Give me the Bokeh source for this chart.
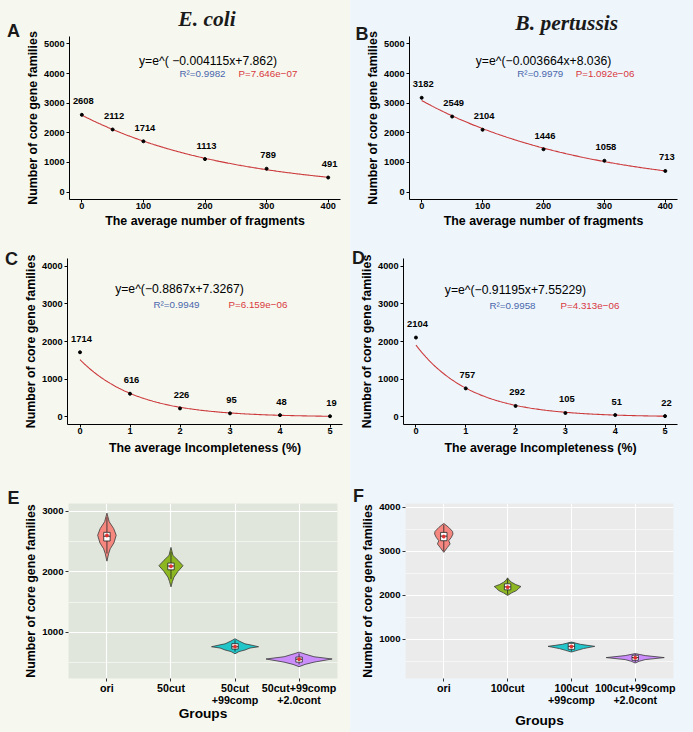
import numpy as np
from bokeh.plotting import figure
from bokeh.models import Label, FixedTicker, SingleIntervalTicker, Range1d
from bokeh.layouts import column, row
from bokeh.embed import file_html
from bokeh.resources import INLINE
from bokeh.core.properties import value

S = 1.0
SANS = "Liberation Sans"
SERIF = "Liberation Serif"
LEFT_BG = "#f6f8f0"
RIGHT_BG = "#eef6fc"
E_PANEL = "#e1e6dc"
F_PANEL = "#ebebeb"
FIT_COLOR = "#cc3a3c"
R2_COLOR = "#4a66ab"
P_COLOR = "#d9383d"

# ---------------- data ----------------
frag_x = [0, 50, 100, 200, 300, 400]
ecoli_frag = [2608, 2112, 1714, 1113, 789, 491]
bper_frag = [3182, 2549, 2104, 1446, 1058, 713]
incomp_x = [0, 1, 2, 3, 4, 5]
ecoli_incomp = [1714, 616, 226, 95, 48, 19]
bper_incomp = [2104, 757, 292, 105, 51, 22]

frag_ticks = [0, 100, 200, 300, 400]
incomp_ticks = [0, 1, 2, 3, 4, 5]
frag_yticks = [0, 1000, 2000, 3000, 4000, 5000]
incomp_yticks = [0, 1000, 2000, 3000, 4000]

fit_slope = {"A": -0.004115, "B": -0.003664, "C": -0.8867, "D": -0.91195}
fit_icpt = {"A": 7.862, "B": 8.036, "C": 7.3267, "D": 7.55229}
formula = {"A": "y=e^( \u22120.004115x+7.862)", "B": "y=e^(\u22120.003664x+8.036)",
           "C": "y=e^(\u22120.8867x+7.3267)", "D": "y=e^(\u22120.91195x+7.55229)"}
r2_text = {"A": "R\u00b2=0.9982", "B": "R\u00b2=0.9979", "C": "R\u00b2=0.9949", "D": "R\u00b2=0.9958"}
p_text = {"A": "P=7.646e\u221207", "B": "P=1.092e\u221206", "C": "P=6.159e\u221206", "D": "P=4.313e\u221206"}

groups_E = ["ori", "50cut", "50cut\n+99comp", "50cut+99comp\n+2.0cont"]
groups_F = ["ori", "100cut", "100cut\n+99comp", "100cut+99comp\n+2.0cont"]
group_colors = ["#F8766D", "#7CAE00", "#00BFC4", "#C77CFF"]

# violin outlines: value levels and half-widths (in category widths)
E_vy = [[2968, 2825, 2714, 2603, 2476, 2381, 2302, 2175],
        [2402, 2270, 2190, 2100, 2005, 1910, 1841, 1751],
        [894, 857, 810, 794, 762, 741, 709, 683, 646],
        [673, 641, 597, 560, 508, 471, 433]]
E_vw = [[0, .036, .105, .145, .109, .052, .027, 0],
        [0, .031, .109, .188, .109, .047, .023, 0],
        [0, .063, .156, .234, .367, .234, .156, .063, 0],
        [0, .094, .234, .516, .234, .094, 0]]
F_vy = [[3629, 3538, 3447, 3388, 3311, 3236, 3162, 3085, 2971],
        [2391, 2340, 2291, 2240, 2194, 2150, 2104, 2050, 1990],
        [932, 880, 834, 783, 744, 705],
        [669, 624, 578, 533, 495, 456]]
F_vw = [[0, .078, .137, .144, .118, .078, .099, .058, 0],
        [0, .024, .063, .126, .209, .173, .141, .063, 0],
        [0, .141, .366, .188, .094, 0],
        [0, .157, .455, .157, .063, 0]]
# box plot statistics
E_q1 = [2508, 2032, 724, 508]
E_med = [2587, 2095, 762, 556]
E_q3 = [2651, 2143, 813, 592]
E_wlo = [2300, 1880, 680, 470]
E_whi = [2900, 2330, 870, 650]
E_mean = [2600, 2090, 765, 556]
F_q1 = [3236, 2119, 767, 517]
F_med = [3340, 2187, 835, 578]
F_q3 = [3425, 2255, 903, 631]
F_wlo = [3000, 2010, 720, 470]
F_whi = [3600, 2370, 920, 660]
F_mean = [3330, 2180, 830, 575]

# --------------- layout specs (reference pixel geometry) ---------------
SPEC = {
    "A": dict(box=(0, 0, 350, 234), frame=(69, 36, 340, 200), xr=(-20, 420), yr=(-250, 5250)),
    "B": dict(box=(350, 0, 693, 234), frame=(406, 33, 677, 199), xr=(-20, 420), yr=(-250, 5250)),
    "C": dict(box=(0, 234, 350, 462), frame=(67, 257, 342, 424), xr=(-0.25, 5.25), yr=(-200, 4200)),
    "D": dict(box=(350, 234, 693, 462), frame=(403, 258, 677, 425), xr=(-0.25, 5.25), yr=(-200, 4200)),
    "E": dict(box=(0, 462, 350, 732), frame=(68, 501, 337, 683), xr=(0.4, 4.6), yr=(238, 3127)),
    "F": dict(box=(350, 462, 693, 732), frame=(405, 503, 673, 678), xr=(0.4, 4.6), yr=(103, 4082)),
}


def to_data(key, xr, yr):
    sp = SPEC[key]
    fl, ft, fr, fb = sp["frame"]
    x0, x1 = sp["xr"]
    y0, y1 = sp["yr"]
    xd = x0 + (xr - fl) / (fr - fl) * (x1 - x0)
    yd = y1 - (yr - ft) / (fb - ft) * (y1 - y0)
    return xd, yd


def make_fig(key, bg, frame_bg=None):
    sp = SPEC[key]
    bx0, by0, bx1, by1 = sp["box"]
    fl, ft, fr, fb = sp["frame"]
    W = round((bx1 - bx0) * S)
    H = round((by1 - by0) * S)
    L = round((fl - bx0) * S)
    T = round((ft - by0) * S)
    R = W - L - round((fr - fl) * S)
    B = H - T - round((fb - ft) * S)
    p = figure(width=W, height=H, x_range=Range1d(*sp["xr"]), y_range=Range1d(*sp["yr"]),
               output_backend="svg", toolbar_location=None,
               min_border_left=L, min_border_right=R, min_border_top=T, min_border_bottom=B)
    p.border_fill_color = bg
    p.background_fill_color = frame_bg or bg
    p.outline_line_color = None
    return p


def add_text(p, key, xr, yr, text, size, color="black", style="normal", align="center",
             baseline="middle", font=SANS, place="center"):
    xd, yd = to_data(key, xr, yr)
    lab = Label(x=xd, y=yd, text=text, text_font=font, text_font_size=size,
                text_font_style=style, text_color=color, text_align=align,
                text_baseline=baseline)
    p.add_layout(lab, place)


def style_axis_common(ax, tick_size, label_size):
    ax.major_label_text_font = SANS
    ax.major_label_text_font_style = "bold"
    ax.major_label_text_font_size = tick_size
    ax.major_label_text_color = "black"
    ax.axis_label_text_font = SANS
    ax.axis_label_text_font_style = "bold"
    ax.axis_label_text_font_size = label_size
    ax.axis_label_text_color = "black"
    ax.minor_tick_out = 0
    ax.minor_tick_in = 0
    ax.major_tick_in = 0


def line_panel(key, bg, xs, ys, xticks, yticks, xlabel, curve_max, fr_xy, r2_xy, p_xy,
               xlabel_standoff):
    p = make_fig(key, bg)
    p.xgrid.visible = False
    p.ygrid.visible = False
    p.xaxis.ticker = FixedTicker(ticks=xticks)
    p.yaxis.ticker = FixedTicker(ticks=yticks)
    p.xaxis.axis_label = xlabel
    p.yaxis.axis_label = "Number of core gene families"
    for ax in (p.xaxis[0], p.yaxis[0]):
        style_axis_common(ax, "9.2px", "12.4px")
        ax.axis_line_color = "black"
        ax.axis_line_width = 1
        ax.major_tick_line_color = "black"
        ax.major_tick_out = 3
    p.xaxis.major_label_standoff = 0
    p.xaxis.axis_label_standoff = xlabel_standoff
    p.yaxis.major_label_standoff = 2
    p.yaxis.axis_label_standoff = 1
    cx = np.linspace(0, curve_max, 200)
    cy = np.exp(fit_slope[key] * cx + fit_icpt[key])
    p.line(cx, cy, line_color=FIT_COLOR, line_width=1.1)
    p.scatter(xs, ys, size=3, color="black")
    p.text(x=xs, y=ys, text=[str(v) for v in ys], text_font=value(SANS), text_font_style="bold",
           text_font_size="9.4px", text_align="center", text_baseline="middle",
           y_offset=-13.5, x_offset=1.5, text_color="black")
    add_text(p, key, fr_xy[0], fr_xy[1], formula[key], "12.2px")
    add_text(p, key, r2_xy[0], r2_xy[1], r2_text[key], "9.8px", color=R2_COLOR, align="left")
    add_text(p, key, p_xy[0], p_xy[1], p_text[key], "9.8px", color=P_COLOR, align="left")
    return p


def violin_panel(key, bg, panel_bg, groups, vy, vw, q1, med, q3, wlo, whi, mean, xlabel_standoff):
    p = make_fig(key, bg, panel_bg)
    centers = [1, 2, 3, 4]
    p.xaxis.ticker = FixedTicker(ticks=centers)
    p.xaxis.major_label_overrides = {c: g for c, g in zip(centers, groups)}
    p.yaxis.ticker = SingleIntervalTicker(interval=1000, num_minor_ticks=2)
    p.xaxis.axis_label = "Groups"
    p.yaxis.axis_label = "Number of core gene families"
    for ax in (p.xaxis[0], p.yaxis[0]):
        ax.axis_line_color = None
        ax.major_tick_line_color = "#333333"
        ax.major_tick_out = 3
    style_axis_common(p.xaxis[0], "10.7px", "13.7px")
    style_axis_common(p.yaxis[0], "9.6px", "12.4px")
    p.xaxis.major_label_text_line_height = 1.0
    p.xaxis.major_label_standoff = 0
    p.xaxis.axis_label_standoff = xlabel_standoff
    p.yaxis.major_label_standoff = 2
    p.yaxis.axis_label_standoff = 1
    p.xgrid.grid_line_color = "white"
    p.xgrid.grid_line_width = 1.1
    p.ygrid.grid_line_color = "white"
    p.ygrid.grid_line_width = 1.1
    p.ygrid.minor_grid_line_color = "white"
    p.ygrid.minor_grid_line_width = 0.55
    xs_list, ys_list = [], []
    for c, ys, ws in zip(centers, vy, vw):
        xs = [c + w for w in ws] + [c - w for w in reversed(ws)]
        yy = list(ys) + list(reversed(ys))
        xs_list.append(xs)
        ys_list.append(yy)
    p.patches(xs_list, ys_list, fill_color=group_colors, fill_alpha=0.85,
              line_color="#3a3a3a", line_width=0.8)
    p.segment(x0=centers, y0=wlo, x1=centers, y1=q1, line_color="#222222", line_width=0.8)
    p.segment(x0=centers, y0=q3, x1=centers, y1=whi, line_color="#222222", line_width=0.8)
    p.quad(left=[c - 0.05 for c in centers], right=[c + 0.05 for c in centers],
           bottom=q1, top=q3, fill_color="white", line_color="#222222", line_width=0.8)
    p.segment(x0=[c - 0.05 for c in centers], y0=med, x1=[c + 0.05 for c in centers], y1=med,
              line_color="#222222", line_width=1)
    p.scatter(centers, mean, size=3, color="#e0302f")
    return p


pA = line_panel("A", LEFT_BG, frag_x, ecoli_frag, frag_ticks, frag_yticks,
                "The average number of fragments", 400, (207.5, 61), (179, 73), (238, 73), 2)
pB = line_panel("B", RIGHT_BG, frag_x, bper_frag, frag_ticks, frag_yticks,
                "The average number of fragments", 400, (541.5, 58), (515, 71), (574, 71), 2)
pC = line_panel("C", LEFT_BG, incomp_x, ecoli_incomp, incomp_ticks, incomp_yticks,
                "The average Incompleteness (%)", 5, (179, 288), (153, 303), (228, 303), 4)
pD = line_panel("D", RIGHT_BG, incomp_x, bper_incomp, incomp_ticks, incomp_yticks,
                "The average Incompleteness (%)", 5, (515, 290), (489, 305), (560, 305), 4)
pE = violin_panel("E", LEFT_BG, E_PANEL, groups_E, E_vy, E_vw, E_q1, E_med, E_q3, E_wlo, E_whi,
                  E_mean, -3)
pF = violin_panel("F", RIGHT_BG, F_PANEL, groups_F, F_vy, F_vw, F_q1, F_med, F_q3, F_wlo, F_whi,
                  F_mean, 4)

# panel letters and species titles, placed in side panels so they are not clipped
letters = [("A", pA, 13, 30, "left"), ("B", pB, 358, 30, "left"),
           ("C", pC, 11, 257, "above"), ("D", pD, 358, 257, "above"),
           ("E", pE, 13, 495, "above"), ("F", pF, 358, 495, "above")]
for txt, fig, xr, yr, place in letters:
    add_text(fig, txt, xr, yr, txt, "18px", color="#1a1a1a", style="bold",
             baseline="alphabetic", place=place)
add_text(pA, "A", 206.5, 18.5, "E. coli", "21.5px", color="#1a1a1a", style="bold italic",
         baseline="alphabetic", font=SERIF, place="above")
add_text(pB, "B", 565, 19, "B. pertussis", "21.5px", color="#1a1a1a", style="bold italic",
         baseline="alphabetic", font=SERIF, place="above")

page_bg = ("linear-gradient(to right, %s 0px, %s 350px, %s 350px, %s 100%%)"
           % (LEFT_BG, LEFT_BG, RIGHT_BG, RIGHT_BG))
layout = column(row(pA, pB, spacing=0), row(pC, pD, spacing=0), row(pE, pF, spacing=0),
                spacing=0, styles={"background": page_bg})
open("out.html", "w").write(file_html(layout, INLINE))
